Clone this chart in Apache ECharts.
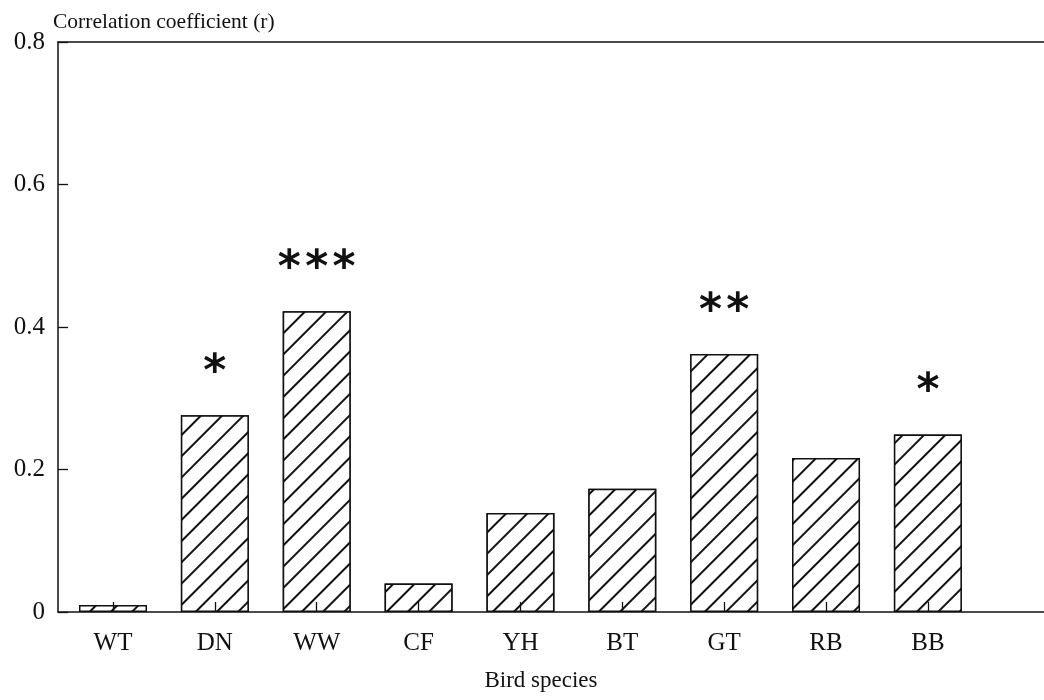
<!DOCTYPE html>
<html>
<head>
<meta charset="utf-8">
<script src="https://cdn.jsdelivr.net/npm/echarts@6/dist/echarts.min.js"></script>
<style>
html, body { margin: 0; padding: 0; background: #fff; }
#chart { width: 1044px; height: 700px; }
</style>
</head>
<body>
<div id="chart"></div>
<script>
// bird species on the x axis
var species = ['WT', 'DN', 'WW', 'CF', 'YH', 'BT', 'GT', 'RB', 'BB'];
// correlation coefficient r for each species
var rValues = [0.01, 0.276, 0.422, 0.040, 0.139, 0.173, 0.362, 0.216, 0.249];
// significance marks above the bars (number of asterisks)
var signif = [0, 1, 3, 0, 0, 0, 2, 0, 1];
var yTicks = [0, 0.2, 0.4, 0.6, 0.8];

var myChart = echarts.init(document.getElementById('chart'));
var serif = '"Liberation Serif", "DejaVu Serif", serif';
var ink = '#111';

var idx = species.map(function (s, i) { return i; });
var barData = rValues.map(function (v, i) { return [i, v]; });

var option = {
	animation: false,
	backgroundColor: '#fff',
	title: {
		text: 'Correlation coefficient (r)',
		left: 48,
		top: 6,
		textStyle: { fontFamily: serif, fontSize: 21.5, fontWeight: 'normal', color: ink }
	},
	grid: { left: 58, right: 0, top: 42, bottom: 88, containLabel: false },
	xAxis: [
		{
			type: 'value',
			min: -0.54,
			max: 9.14,
			z: 5,
			name: 'Bird species',
			nameLocation: 'middle',
			nameGap: 57,
			nameTextStyle: { fontFamily: serif, fontSize: 23, color: ink, padding: [0, 20, 0, 0] },
			axisLine: { show: true, onZero: false, lineStyle: { color: ink, width: 1.5 } },
			axisTick: { show: true, inside: true, length: 10, customValues: idx, lineStyle: { color: ink, width: 1.3 } },
			axisLabel: {
				customValues: idx,
				margin: 19,
				fontFamily: serif,
				fontSize: 25,
				color: ink,
				formatter: function (v) { return species[Math.round(v)]; }
			},
			splitLine: { show: false }
		},
		{
			type: 'value',
			position: 'top',
			min: -0.54,
			max: 9.14,
			axisLine: { show: true, onZero: false, lineStyle: { color: ink, width: 1.5 } },
			axisTick: { show: false },
			axisLabel: { show: false },
			splitLine: { show: false }
		}
	],
	yAxis: {
		type: 'value',
		min: 0,
		max: 0.8,
		interval: 0.2,
		z: 5,
		axisLine: { show: true, onZero: false, lineStyle: { color: ink, width: 1.5 } },
		axisTick: { show: true, inside: true, length: 10, lineStyle: { color: ink, width: 1.3 } },
		axisLabel: {
			margin: 13,
			fontFamily: serif,
			fontSize: 25,
			color: ink,
			customValues: yTicks,
			formatter: function (v) { return v === 0 ? '0' : v.toFixed(1); }
		},
		splitLine: { show: false }
	},
	series: [
		{
			type: 'bar',
			xAxisIndex: 0,
			barWidth: 68,
			data: barData,
			itemStyle: {
				color: '#fff',
				borderColor: ink,
				borderWidth: 1.5,
				decal: {
					symbol: 'rect',
					symbolSize: 1,
					color: ink,
					backgroundColor: '#fff',
					dashArrayX: [1, 0],
					dashArrayY: [1.5, 12.5],
					rotation: -Math.PI / 4
				}
			},
			label: {
				show: true,
				position: 'top',
				distance: 20,
				fontFamily: '"DejaVu Sans", sans-serif',
				fontWeight: 'bold',
				fontSize: 44,
				color: ink,
				formatter: function (p) {
					var n = signif[p.dataIndex];
					var marks = [];
					for (var k = 0; k < n; k++) marks.push('*');
					return marks.join('\u200A');
				}
			}
		}
	]
};
myChart.setOption(option);
</script>
</body>
</html>
